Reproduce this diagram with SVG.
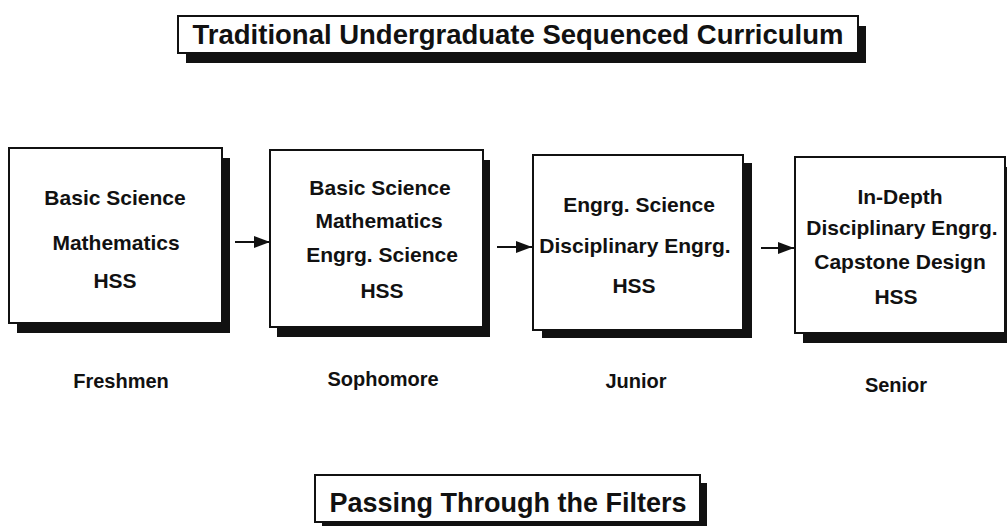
<svg xmlns="http://www.w3.org/2000/svg" width="1007" height="526" viewBox="0 0 1007 526">
<defs>
<style>
.box{fill:#fff;stroke:#111;stroke-width:2}
.sh{fill:#111}
.t{font-family:"Liberation Sans",Arial,sans-serif;font-weight:bold;fill:#111;text-anchor:middle}
.n{font-size:21px}
.y{font-size:20px}
.h{font-size:27.5px}
.con{stroke:#111;stroke-width:2;fill:none}
</style>
<marker id="ah" viewBox="0 0 16 12" refX="16" refY="6" markerWidth="16" markerHeight="12" markerUnits="userSpaceOnUse" orient="auto">
<path d="M0,0 L16,6 L0,12 Z" fill="#111"/>
</marker>
</defs>
<rect width="1007" height="526" fill="#fff"/>
<g id="title">
<rect class="sh" x="186" y="26" width="680" height="37"/>
<rect class="box" x="178" y="16" width="680" height="37"/>
<text class="t h" x="518" y="44">Traditional Undergraduate Sequenced Curriculum</text>
</g>
<g id="freshmen">
<rect class="sh" x="17" y="158" width="213" height="175"/>
<rect class="box" x="9" y="148" width="213" height="175"/>
<text class="t n" x="115" y="205">Basic Science</text>
<text class="t n" x="116" y="250">Mathematics</text>
<text class="t n" x="115" y="288">HSS</text>
<text class="t y" x="121" y="388">Freshmen</text>
</g>
<g id="sophomore">
<rect class="sh" x="277" y="160" width="213" height="177"/>
<rect class="box" x="270" y="150" width="213" height="177"/>
<text class="t n" x="380" y="195">Basic Science</text>
<text class="t n" x="379" y="228">Mathematics</text>
<text class="t n" x="382" y="262">Engrg. Science</text>
<text class="t n" x="382" y="298">HSS</text>
<text class="t y" x="383" y="386">Sophomore</text>
</g>
<g id="junior">
<rect class="sh" x="542" y="163" width="210" height="175"/>
<rect class="box" x="533" y="155" width="210" height="175"/>
<text class="t n" x="639" y="212">Engrg. Science</text>
<text class="t n" x="635" y="253">Disciplinary Engrg.</text>
<text class="t n" x="634" y="293">HSS</text>
<text class="t y" x="636" y="388">Junior</text>
</g>
<g id="senior">
<rect class="sh" x="803" y="167" width="210" height="176"/>
<rect class="box" x="795" y="157" width="210" height="176"/>
<text class="t n" x="900" y="204">In-Depth</text>
<text class="t n" x="902" y="235">Disciplinary Engrg.</text>
<text class="t n" x="900" y="269">Capstone Design</text>
<text class="t n" x="896" y="304">HSS</text>
<text class="t y" x="896" y="392">Senior</text>
</g>
<g id="filters">
<rect class="sh" x="322" y="483" width="385" height="47"/>
<rect class="box" x="315" y="475" width="385" height="47"/>
<text class="t h" x="508" y="512" style="font-size:27px">Passing Through the Filters</text>
</g>
<g id="connectors">
<line class="con" x1="235" y1="242" x2="270" y2="242" marker-end="url(#ah)"/>
<line class="con" x1="497" y1="247" x2="532" y2="247" marker-end="url(#ah)"/>
<line class="con" x1="761" y1="248" x2="794" y2="248" marker-end="url(#ah)"/>
</g>
</svg>
